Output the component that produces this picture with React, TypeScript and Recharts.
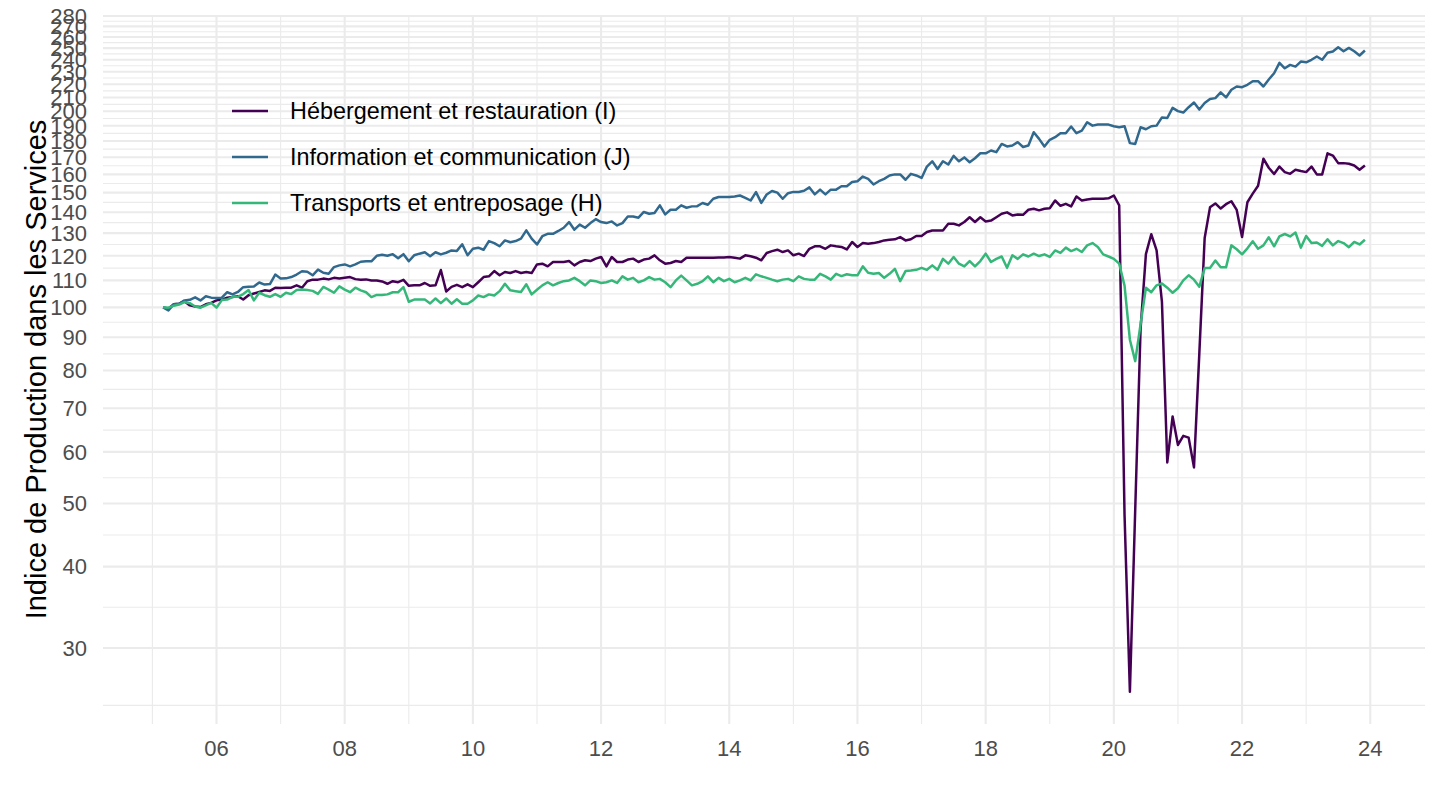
import React from 'react';
import { LineChart, Line, XAxis, YAxis, CartesianGrid, Legend } from 'recharts';

const FONT = '"Liberation Sans", Arial, Helvetica, sans-serif';

// Monthly series, March 2005 -> December 2023
const START_YEAR = 2005;
const START_MONTH = 3;

const hebergement: number[] = [
  100, 99.5, 101.1, 101.3, 102.2, 100.7, 100.3, 100.1, 101.1, 101.6, 102.5, 102.8,
  103.5, 103.7, 104.0, 102.8, 104.4, 105.0, 105.6, 106.2, 106.0, 107.2, 107.1, 107.2,
  107.2, 108.1, 107.2, 109.7, 110.3, 110.3, 110.7, 110.4, 111.0, 110.7, 111.0, 111.3,
  110.5, 110.3, 110.4, 110.0, 110.0, 109.6, 108.7, 109.7, 109.3, 110.2, 107.9, 108.1,
  108.1, 109.0, 107.9, 108.1, 114.1, 105.8, 107.5, 108.3,
  107.4, 108.5, 107.4, 109.3, 111.3, 111.6, 113.7, 112.0, 113.3, 112.9, 113.7, 112.9,
  113.3, 112.9, 116.4, 116.7, 115.6, 117.4, 117.4, 117.4, 117.8, 116.0, 117.4, 118.1,
  117.8, 118.8, 119.5, 115.6, 119.5, 117.4, 117.4, 118.4, 118.8, 117.4, 118.4, 118.8,
  120.2, 118.1, 116.7, 117.0, 117.8, 117.4, 119.2, 119.2, 119.2, 119.2, 119.2, 119.2,
  119.3, 119.3, 119.5, 119.2, 118.8, 120.2, 119.8, 119.2, 118.1, 121.2, 122.0, 122.6,
  121.6, 122.3, 120.2, 120.9, 119.9, 123.0, 124.1, 124.1, 123.0, 124.5, 124.1, 123.8,
  122.7, 126.0, 123.8, 125.5, 125.2, 125.5, 126.0, 126.7, 127.0, 127.2, 128.2, 126.7,
  127.2, 128.7, 128.7, 130.5, 131.2, 131.2, 131.2, 134.4, 134.4, 133.6, 135.2, 137.5,
  135.2, 137.5, 135.5, 135.9, 137.5, 139.2, 139.9, 138.4, 138.9, 138.7, 141.2, 141.7,
  140.9, 141.7, 142.0, 145.9, 143.2, 144.2, 142.9, 148.0, 145.9, 146.4, 146.8, 146.8,
  146.8, 147.0, 148.5, 143.4,
  48.0, 25.7, 49.0, 92.7, 120.7, 129.5, 122.3, 102.0, 57.8, 68.0, 61.5, 63.5,
  63.1, 56.8, 85.0, 127.8, 142.4, 144.4, 141.8, 144.0, 145.5, 141.1, 128.2, 145.0,
  149.5, 153.7, 169.1, 163.8, 160.2, 164.5, 161.3, 160.3, 162.6, 161.9, 161.3, 164.5,
  160.0, 160.0, 172.4, 171.0, 166.5, 166.5, 166.1, 165.1, 162.6, 165.1,
];

const information: number[] = [
  100, 98.9, 101.1, 101.3, 102.5, 102.7, 103.6, 102.5, 104.0, 103.5, 103.4, 103.5,
  105.5, 104.7, 105.6, 107.4, 107.6, 107.7, 109.2, 108.4, 108.6, 112.3, 110.7, 110.8,
  111.3, 112.3, 113.6, 113.4, 112.0, 114.3, 113.0, 112.6, 115.3, 116.0, 116.4, 115.6,
  116.4, 117.5, 117.7, 117.7, 120.0, 120.4, 120.0, 120.7, 119.0, 120.7, 117.7, 120.2,
  120.9, 121.5, 119.8, 121.5, 120.6, 121.3, 122.3, 122.1,
  125.0, 120.2, 123.0, 123.5, 122.6, 126.4, 125.5, 124.1, 126.7, 125.9, 126.4, 127.5,
  131.3, 127.5, 124.9, 128.6, 129.7, 129.7, 131.0, 132.5, 135.2, 131.6, 134.0, 132.5,
  134.7, 136.6, 135.2, 134.7, 135.5, 133.6, 134.7, 137.9, 137.9, 137.3, 140.1, 139.2,
  139.6, 143.4, 138.9, 141.2, 141.2, 143.4, 142.2, 142.9, 143.0, 144.6, 143.7, 146.8,
  147.7, 147.7, 147.7, 148.0, 148.5, 147.3, 145.9, 150.3, 144.7, 149.0, 150.9, 150.0,
  146.8, 149.7, 150.4, 150.4, 151.0, 152.8, 149.1, 151.6, 149.1, 151.6, 151.6, 153.4,
  153.4, 155.8, 156.2, 158.8, 157.5, 154.4, 156.2, 157.5, 159.4, 160.0, 160.0, 157.0,
  160.3, 159.4, 158.0, 164.5, 167.6, 163.1, 167.6, 165.7, 170.8, 167.6, 169.9, 167.0,
  169.4, 172.4, 172.4, 174.1, 173.1, 178.2, 176.6, 177.2, 179.3, 176.3, 177.2, 185.7,
  181.4, 176.6, 180.8, 182.5, 185.1, 185.1, 189.5, 185.1, 186.8, 192.4, 190.1, 190.8,
  190.8, 190.8, 189.7, 189.0,
  189.7, 178.7, 178.2, 189.0, 187.7, 189.7, 190.1, 195.7, 195.3, 202.4, 200.1, 199.1,
  202.9, 206.3, 201.2, 205.9, 208.8, 209.5, 213.8, 210.0, 215.8, 218.3, 217.8, 219.6,
  222.4, 222.4, 218.3, 223.8, 228.8, 237.3, 232.8, 235.6, 234.2, 238.4, 237.8, 239.9,
  242.7, 239.9, 245.9, 247.0, 250.8, 247.3, 250.2, 247.3, 243.6, 247.9,
];

const transports: number[] = [
  100, 99.9, 100.6, 101.0, 101.9, 101.5, 100.3, 99.9, 100.7, 101.6, 99.9, 102.6,
  102.8, 103.8, 103.8, 104.8, 106.3, 102.5, 105.3, 104.4, 103.8, 104.8, 103.8, 105.3,
  104.8, 106.3, 106.5, 106.3, 106.0, 104.9, 107.5, 106.5, 105.3, 107.7, 106.5, 105.5,
  107.2, 106.2, 105.5, 103.7, 104.5, 104.5, 104.7, 105.5, 105.5, 107.4, 102.0, 102.8,
  102.8, 102.8, 101.4, 103.2, 101.5, 103.2, 101.3, 102.9,
  101.3, 101.3, 102.5, 104.3, 103.7, 104.7, 104.3, 105.9, 108.7, 106.2, 105.9, 105.6,
  108.5, 104.7, 106.4, 108.1, 109.3, 108.1, 109.0, 109.7, 110.0, 111.0, 109.7, 108.1,
  110.0, 109.7, 109.0, 109.3, 110.0, 109.0, 111.6, 110.3, 111.0, 109.3, 110.0, 111.3,
  110.3, 110.6, 109.3, 107.4, 110.0, 111.9, 110.0, 108.1, 108.7, 109.7, 111.6, 109.3,
  111.0, 109.7, 110.6, 109.3, 110.0, 111.0, 110.0, 112.4, 111.6, 111.0, 110.3, 109.7,
  110.3, 110.6, 109.7, 111.6, 110.6, 110.3, 110.3, 112.6, 111.6, 110.3, 112.6, 111.7,
  112.4, 112.0, 112.0, 115.6, 113.0, 112.6, 112.9, 111.0, 112.6, 114.6, 109.7, 113.7,
  113.9, 114.2, 115.0, 114.2, 116.0, 114.2, 118.7, 116.7, 119.5, 116.7, 115.6, 117.8,
  115.6, 117.8, 120.9, 117.4, 118.7, 119.7, 115.0, 120.2, 118.7, 120.6, 119.7, 120.9,
  119.9, 120.6, 119.5, 122.3, 121.2, 123.5, 122.0, 123.0, 121.6, 124.5, 125.5, 123.8,
  120.6, 119.7, 118.7, 116.7,
  108.0, 89.2, 82.7, 94.2, 107.2, 105.5, 108.1, 108.8, 107.2, 105.3, 107.0, 110.0,
  112.0, 110.3, 107.6, 114.9, 114.9, 118.0, 115.2, 115.2, 124.5, 122.8, 120.6, 123.2,
  126.3, 123.0, 124.5, 128.1, 124.1, 128.5, 129.6, 128.5, 130.3, 123.5, 128.7, 125.5,
  125.8, 124.3, 127.2, 124.5, 126.4, 125.5, 123.7, 126.0, 124.9, 127.0,
];

const seriesNames = [
  'Hébergement et restauration (I)',
  'Information et communication (J)',
  'Transports et entreposage (H)',
];
const seriesColors = ['#440154', '#31688E', '#35B779'];

const xMajorTicks = [2006, 2008, 2010, 2012, 2014, 2016, 2018, 2020, 2022, 2024];
const xMinorLines = [2005, 2007, 2009, 2011, 2013, 2015, 2017, 2019, 2021, 2023];
const yTicks = [
  30, 40, 50, 60, 70, 80, 90, 100, 110, 120, 130, 140, 150, 160, 170, 180, 190,
  200, 210, 220, 230, 240, 250, 260, 270, 280,
];

// time axis (fractional years)
const times: number[] = hebergement.map((_, i) => START_YEAR + (START_MONTH - 1 + i) / 12);

const data = times.map((t, i) => ({
  t,
  I: hebergement[i],
  J: information[i],
  H: transports[i],
}));

// ggplot-like 5% expansion (log space for y)
const allValues = [...hebergement, ...information, ...transports];
const lMin = Math.log10(Math.min(...allValues));
const lMax = Math.log10(Math.max(...allValues));
const yLo = Math.pow(10, lMin - 0.05 * (lMax - lMin));
const yHi = Math.pow(10, lMax + 0.05 * (lMax - lMin));
const tMin = times[0];
const tMax = times[times.length - 1];
const xLo = tMin - 0.05 * (tMax - tMin);
const xHi = tMax + 0.05 * (tMax - tMin);

const yBreaksExt = [20, ...yTicks, 290];
const yMinorLines = yBreaksExt
  .slice(0, -1)
  .map((v, i) => Math.sqrt(v * yBreaksExt[i + 1]))
  .filter((v) => v > yLo && v < yHi);

const renderLegend = (props: any) => {
  const payload = [...(props.payload || [])].sort(
    (a: any, b: any) => seriesNames.indexOf(a.value) - seriesNames.indexOf(b.value)
  );
  return (
    <div style={{ fontFamily: FONT, fontSize: 23.4, color: '#000000' }}>
      {payload.map((e: any) => (
        <div key={e.value} style={{ display: 'flex', alignItems: 'center', height: 46 }}>
          <svg width={36} height={10} style={{ display: 'block' }}>
            <line x1={0} y1={5} x2={36} y2={5} stroke={e.color} strokeWidth={2.5} />
          </svg>
          <span style={{ marginLeft: 22, whiteSpace: 'nowrap' }}>{e.value}</span>
        </div>
      ))}
    </div>
  );
};

const renderYLabel = (props: any) => {
  const vb = props.viewBox || { y: 15, height: 709 };
  const cx = 46;
  const cy = vb.y + vb.height / 2;
  return (
    <text
      x={cx}
      y={cy}
      transform={`rotate(-90 ${cx} ${cy})`}
      textAnchor="middle"
      fontFamily={FONT}
      fontSize={29}
      fill="#000000"
    >
      Indice de Production dans les Services
    </text>
  );
};

export default function App() {
  return (
    <div style={{ position: 'absolute', left: 0, top: 0, width: 1440, height: 810, background: '#ffffff' }}>
      <LineChart
        width={1440}
        height={810}
        data={data}
        margin={{ top: 15, right: 15, bottom: 46, left: 0 }}
      >
        <CartesianGrid
          stroke="#EBEBEB"
          strokeWidth={1.1}
          horizontalValues={yMinorLines}
          verticalValues={xMinorLines}
        />
        <CartesianGrid
          stroke="#EBEBEB"
          strokeWidth={2.1}
          horizontalValues={yTicks}
          verticalValues={xMajorTicks}
        />
        <XAxis
          type="number"
          dataKey="t"
          domain={[xLo, xHi]}
          allowDataOverflow
          ticks={xMajorTicks}
          interval={0}
          tickFormatter={(v: number) => String(v % 100).padStart(2, '0')}
          height={40}
          axisLine={false}
          tickLine={false}
          tickSize={0}
          tickMargin={16}
          tick={{ fill: '#4D4D4D', fontSize: 22, fontFamily: FONT }}
        />
        <YAxis
          type="number"
          scale="log"
          domain={[yLo, yHi]}
          allowDataOverflow
          ticks={yTicks}
          interval={0}
          width={103}
          axisLine={false}
          tickLine={false}
          tickSize={0}
          tickMargin={16}
          tick={{ fill: '#4D4D4D', fontSize: 22, fontFamily: FONT }}
          label={{ content: renderYLabel }}
        />
        <Legend
          layout="vertical"
          align="center"
          verticalAlign="middle"
          wrapperStyle={{ left: 232, top: 88, width: 'auto', height: 'auto' }}
          content={renderLegend}
        />
        <Line
          type="linear"
          dataKey="I"
          name={seriesNames[0]}
          stroke={seriesColors[0]}
          strokeWidth={2.5}
          strokeLinejoin="round"
          dot={false}
          activeDot={false}
          isAnimationActive={false}
        />
        <Line
          type="linear"
          dataKey="J"
          name={seriesNames[1]}
          stroke={seriesColors[1]}
          strokeWidth={2.5}
          strokeLinejoin="round"
          dot={false}
          activeDot={false}
          isAnimationActive={false}
        />
        <Line
          type="linear"
          dataKey="H"
          name={seriesNames[2]}
          stroke={seriesColors[2]}
          strokeWidth={2.5}
          strokeLinejoin="round"
          dot={false}
          activeDot={false}
          isAnimationActive={false}
        />
      </LineChart>
    </div>
  );
}
